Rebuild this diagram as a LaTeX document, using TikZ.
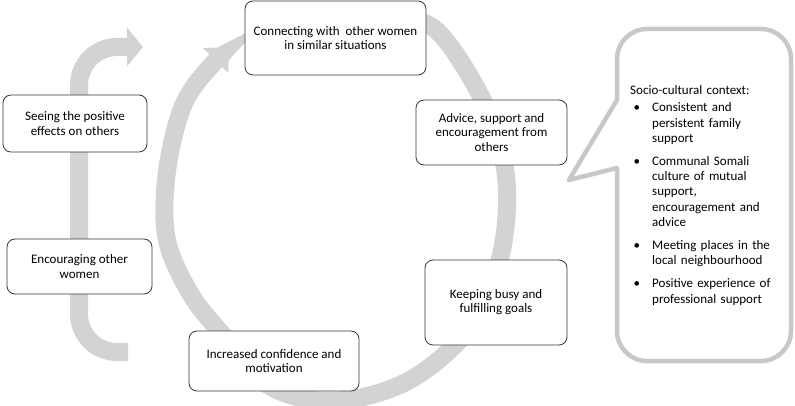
\documentclass[tikz,border=0pt]{standalone}
\usepackage{fontspec}
\setmainfont{Carlito}
\usetikzlibrary{arrows.meta}
\definecolor{bandgray}{RGB}{211,211,211}
\definecolor{bubblegray}{RGB}{200,200,200}
\definecolor{boxline}{RGB}{55,55,55}
\newcommand{\ctxitem}{\par\hangindent=22pt\hangafter=0\leavevmode\llap{\textbullet\hspace{12pt}}}

\begin{document}
\begin{tikzpicture}[x=1pt,y=-1pt,font=\fontsize{13}{14.2}\selectfont,
  band/.style={draw=bandgray,line width=18pt},
  stage/.style={draw=boxline,line width=0.8pt,rounded corners=8pt,fill=white,align=center,inner sep=0pt},
  bubble/.style={draw=bubblegray,line width=4.5pt,fill=white,line join=round}]
\useasboundingbox (0,0) rectangle (795,406);
% big cycle
\draw[band,-{Triangle[width=34pt,length=19pt]}] plot[smooth,tension=0.6] coordinates {(398,15) (436,30) (472,80) (497,135) (507,190) (502,250) (485,300) (455,345) (400,385) (330,401) (268,385) (222,334) (190,293) (167,240) (166,180) (178,120) (195,85) (229,47)};
% left arrow
\draw[band,rounded corners=38pt,-{Triangle[width=38pt,length=16pt]}] (128,352) -- (79,352) -- (79,47) -- (143,47);
% stages
\node[stage,minimum width=181pt,minimum height=74pt] (conn) at (335.5,38) {Connecting with\ \ other women\\in similar situations};
\node[stage,minimum width=151pt,minimum height=65pt] (advice) at (491.5,132.5) {Advice, support and\\encouragement from\\others};
\node[stage,minimum width=142pt,minimum height=85pt] (busy) at (496,302.5) {Keeping busy and\\fulfilling goals};
\node[stage,minimum width=170pt,minimum height=60pt] (conf) at (274,361) {Increased confidence and\\motivation};
\node[stage,minimum width=145pt,minimum height=55pt] (enc) at (79.5,266.5) {Encouraging other\\women};
\node[stage,minimum width=144pt,minimum height=57pt] (seeing) at (75,123.5) {Seeing the positive\\effects on others};
% context callout
\draw[bubble] (617,100) [rounded corners=30pt] -- (617,29) -- (791,29) -- (791,361) -- (617,361) [sharp corners] -- (617,168) -- (569,180) -- cycle;
\node[anchor=north west,inner sep=0pt,text width=160pt,align=left,font=\fontsize{13}{15.2}\selectfont] (context) at (630,85) {Socio-cultural context:\vspace{2.5pt}
\ctxitem Consistent and\newline persistent family\newline support\par\vspace{8pt}
\ctxitem Communal Somali\newline culture of mutual\newline support,\newline encouragement and\newline advice\par\vspace{8pt}
\ctxitem Meeting places in the\newline local neighbourhood\par\vspace{8pt}
\ctxitem Positive experience of\newline professional support\par};
\end{tikzpicture}
\end{document}
